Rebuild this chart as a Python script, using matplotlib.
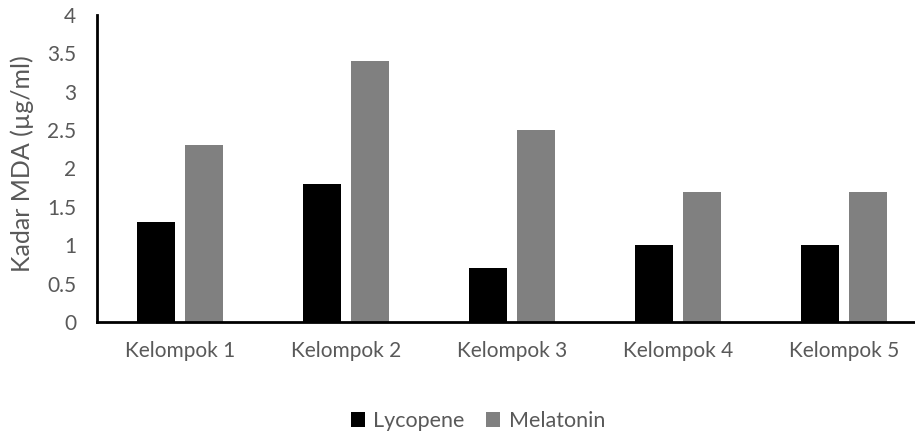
import matplotlib
matplotlib.use("Agg")
import matplotlib.pyplot as plt
import numpy as np

plt.rcParams['font.family'] = ['Lato', 'DejaVu Sans']

categories = ["Kelompok 1", "Kelompok 2", "Kelompok 3", "Kelompok 4", "Kelompok 5"]
lycopene = [1.3, 1.8, 0.7, 1.0, 1.0]
melatonin = [2.3, 3.4, 2.5, 1.7, 1.7]
y_ticks = [0, 0.5, 1, 1.5, 2, 2.5, 3, 3.5, 4]
y_tick_labels = ["0", "0.5", "1", "1.5", "2", "2.5", "3", "3.5", "4"]

text_color = "#595959"
W, H = 915, 432
fig = plt.figure(figsize=(W / 100, H / 100), dpi=100)
ax = fig.add_axes([97 / W, (H - 322) / H, 830 / W, 307 / H])

x = np.arange(len(categories))
bw = 0.23
off = 0.145
b1 = ax.bar(x - off, lycopene, bw, color="#000000", label="Lycopene", zorder=2)
b2 = ax.bar(x + off, melatonin, bw, color="#808080", label="Melatonin", zorder=2)

ax.set_xlim(-0.5, len(categories) - 0.5)
ax.set_ylim(0, 4)
ax.set_yticks(y_ticks)
ax.set_yticklabels(y_tick_labels)
ax.set_xticks(x)
ax.set_xticklabels(categories)
ax.tick_params(axis="both", length=0, labelsize=15, colors=text_color)
ax.tick_params(axis="y", pad=15)
ax.tick_params(axis="x", pad=14)

for s in ["top", "right"]:
    ax.spines[s].set_visible(False)
ax.spines["left"].set_linewidth(2)
ax.spines["bottom"].set_linewidth(2)
ax.spines["left"].set_color("black")
ax.spines["bottom"].set_color("black")

ax.set_ylabel("Kadar MDA (µg/ml)", fontsize=18, color=text_color)
ax.yaxis.set_label_coords(-75 / 830, 0.5 + 5 / 307)
ax.yaxis.label.set_verticalalignment("center")

fig.legend(handles=[b1, b2], labels=["Lycopene", "Melatonin"],
           loc="center", bbox_to_anchor=(478 / W, (H - 421) / H),
           ncol=2, frameon=False, fontsize=15.5, labelcolor=text_color,
           handlelength=0.65, handleheight=0.65, handletextpad=0.4,
           columnspacing=1.0)

fig.savefig("out.png", dpi=100)
